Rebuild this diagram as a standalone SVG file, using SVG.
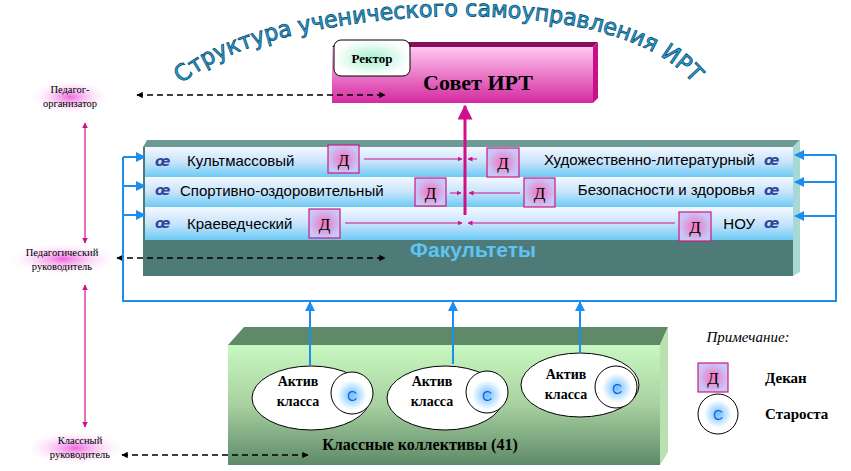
<svg xmlns="http://www.w3.org/2000/svg" width="851" height="471" viewBox="0 0 851 471">
<style>
.t{font-family:"Liberation Serif",serif;fill:#000}
.s{font-family:"Liberation Sans",Arial,sans-serif;font-size:15px;fill:#000}
.o{font-family:"DejaVu Sans",sans-serif;font-size:14px;font-weight:bold;font-style:italic;fill:#334499}
.d{fill:url(#dg);stroke:#d0187f;stroke-width:1.2}
.dt{font-family:"Liberation Serif",serif;font-size:17px;text-anchor:middle}
.lb{fill:url(#pl)}
.lt{font-family:"Liberation Serif",serif;font-size:10.5px;text-anchor:middle}
.bl{stroke:#1a8ff0;stroke-width:2;fill:none}
.pk{stroke:#d0108a;fill:none}
.da{stroke:#000;stroke-width:1.6;stroke-dasharray:6,4;fill:none}
</style>
<defs>
<marker id="ab" viewBox="0 0 10 10" refX="9" refY="5" markerWidth="5" markerHeight="5" orient="auto-start-reverse"><path d="M0 0L10 5L0 10z" fill="#1a8ff0"/></marker>
<marker id="ap" viewBox="0 0 10 10" refX="9" refY="5" markerWidth="5" markerHeight="5" orient="auto-start-reverse"><path d="M0 0L10 5L0 10z" fill="#d0108a"/></marker>
<marker id="ak" viewBox="0 0 10 10" refX="9" refY="5" markerWidth="4" markerHeight="4" orient="auto-start-reverse"><path d="M0 0L10 5L0 10z" fill="#000"/></marker>
<linearGradient id="sv" x1="0" y1="0" x2="0" y2="1"><stop offset="0" stop-color="#ffc8f0"/><stop offset="1" stop-color="#d42aa0"/></linearGradient>
<linearGradient id="row" x1="0" y1="0" x2="0" y2="1"><stop offset="0" stop-color="#f4f8ff"/><stop offset="0.5" stop-color="#c8e4fb"/><stop offset="1" stop-color="#6ccaf5"/></linearGradient>
<linearGradient id="kl" x1="0" y1="0" x2="0" y2="1"><stop offset="0" stop-color="#c8f8c0"/><stop offset="0.5" stop-color="#a8d0a0"/><stop offset="1" stop-color="#5e8a68"/></linearGradient>
<radialGradient id="dg"><stop offset="0" stop-color="#f070c0"/><stop offset="1" stop-color="#c8c8f8"/></radialGradient>
<radialGradient id="cg"><stop offset="0" stop-color="#6fc0ff"/><stop offset="1" stop-color="#ffffff"/></radialGradient>
<radialGradient id="pl"><stop offset="0" stop-color="#f068e0"/><stop offset="1" stop-color="#fff0fc" stop-opacity="0"/></radialGradient>
<radialGradient id="rk"><stop offset="0" stop-color="#a8f0d0"/><stop offset="1" stop-color="#ffffff"/></radialGradient>
<path id="arc" d="M182 84 C260 10 600 -20 690 80"/>
</defs>
<text font-family="DejaVu Sans,sans-serif" font-size="23" fill="#2aa6d6" stroke="#0b4a70" stroke-width="0.8"><textPath href="#arc" textLength="540" lengthAdjust="spacingAndGlyphs">Структура ученического самоуправления ИРТ</textPath></text>

<g id="sovet">
<polygon points="332,47 337,42 598,42 593,47" fill="#8a0c5a"/>
<polygon points="593,47 598,42 598,98 593,103" fill="#c8108a"/>
<rect x="332" y="47" width="261" height="56" fill="url(#sv)"/>
<text class="t" x="478" y="90" font-size="22" font-weight="bold" text-anchor="middle">Совет ИРТ</text>
</g>
<g id="rektor">
<rect x="334" y="40" width="76" height="36" rx="7" fill="url(#rk)" stroke="#000"/>
<text class="t" x="372" y="63" font-size="13" font-weight="bold" text-anchor="middle">Ректор</text>
</g>

<g id="fakultety">
<polygon points="143,147 147,140 800,140 793,147" fill="#6e9a96"/>
<polygon points="793,147 800,140 800,272 793,276" fill="#a8d8d4"/>
<rect x="143" y="147" width="650" height="129" fill="#4e7a78"/>
<rect x="145" y="147" width="648" height="30" fill="url(#row)"/>
<rect x="145" y="177" width="648" height="30" fill="url(#row)"/>
<rect x="145" y="207" width="648" height="33" fill="url(#row)"/>
<text x="473" y="257" font-family="Liberation Sans,sans-serif" font-size="21" font-weight="bold" fill="#5ec4f4" text-anchor="middle">Факультеты</text>
<text class="o" x="155" y="166">œ</text>
<text class="o" x="155" y="195">œ</text>
<text class="o" x="155" y="228">œ</text>
<text class="o" x="764" y="165">œ</text>
<text class="o" x="764" y="195">œ</text>
<text class="o" x="764" y="228">œ</text>
<text class="s" x="187" y="166">Культмассовый</text>
<text class="s" x="180" y="196">Спортивно-оздоровительный</text>
<text class="s" x="187" y="229">Краеведческий</text>
<text class="s" x="755" y="165" text-anchor="end">Художественно-литературный</text>
<text class="s" x="755" y="195" text-anchor="end">Безопасности и здоровья</text>
<text class="s" x="755" y="229" text-anchor="end">НОУ</text>
</g>
<g id="dekany">
<rect class="d" x="328" y="145" width="31" height="28"/><text class="dt" x="343.5" y="166">Д</text>
<rect class="d" x="487" y="148" width="32" height="29"/><text class="dt" x="503" y="169">Д</text>
<rect class="d" x="415" y="178" width="31" height="28"/><text class="dt" x="430.5" y="199">Д</text>
<rect class="d" x="524" y="178" width="31" height="29"/><text class="dt" x="539.5" y="199">Д</text>
<rect class="d" x="309" y="209" width="31" height="29"/><text class="dt" x="324.5" y="230">Д</text>
<rect class="d" x="679" y="212" width="32" height="29"/><text class="dt" x="695" y="233">Д</text>
</g>

<g id="klassy">
<polygon points="228,345 244,327 668,327 660,345" fill="#5e8a68"/>
<polygon points="660,345 668,327 668,452 660,465" fill="#b8e0b0"/>
<rect x="228" y="345" width="432" height="120" fill="url(#kl)"/>
<text class="t" x="420" y="450" font-size="16" font-weight="bold" text-anchor="middle">Классные коллективы (41)</text>
</g>
<g id="aktiv1"><ellipse cx="311" cy="398" rx="59" ry="32" fill="#fff" stroke="#000"/><circle cx="352" cy="393" r="21" fill="#fff" stroke="#000"/><circle cx="352" cy="395" r="15" fill="url(#cg)"/><text x="352" y="401" font-family="Liberation Sans,sans-serif" font-size="14" fill="#1060e0" text-anchor="middle">С</text><text class="t" x="298" y="386" font-size="14" font-weight="bold" text-anchor="middle">Актив</text><text class="t" x="298" y="406" font-size="14" font-weight="bold" text-anchor="middle">класса</text></g>
<g id="aktiv2"><ellipse cx="445" cy="398" rx="58" ry="32" fill="#fff" stroke="#000"/><circle cx="487" cy="392" r="21" fill="#fff" stroke="#000"/><circle cx="487" cy="395" r="15" fill="url(#cg)"/><text x="487" y="401" font-family="Liberation Sans,sans-serif" font-size="14" fill="#1060e0" text-anchor="middle">С</text><text class="t" x="432" y="386" font-size="14" font-weight="bold" text-anchor="middle">Актив</text><text class="t" x="432" y="406" font-size="14" font-weight="bold" text-anchor="middle">класса</text></g>
<g id="aktiv3"><ellipse cx="580" cy="385" rx="59" ry="32" fill="#fff" stroke="#000"/><circle cx="616" cy="387" r="21" fill="#fff" stroke="#000"/><circle cx="617" cy="388" r="15" fill="url(#cg)"/><text x="617" y="394" font-family="Liberation Sans,sans-serif" font-size="14" fill="#1060e0" text-anchor="middle">С</text><text class="t" x="566" y="379" font-size="14" font-weight="bold" text-anchor="middle">Актив</text><text class="t" x="566" y="399" font-size="14" font-weight="bold" text-anchor="middle">класса</text></g>

<g id="ped-org"><rect class="lb" x="30" y="80" width="80" height="34"/><text class="lt" x="70" y="93">Педагог-</text><text class="lt" x="70" y="107">организатор</text></g>
<g id="ped-ruk"><rect class="lb" x="8" y="243" width="110" height="32"/><text class="lt" x="62" y="256">Педагогический</text><text class="lt" x="62" y="270">руководитель</text></g>
<g id="kl-ruk"><rect class="lb" x="25" y="431" width="100" height="34"/><text class="lt" x="80" y="444">Классный</text><text class="lt" x="80" y="458">руководитель</text></g>

<g id="legend">
<text class="t" x="748" y="342" font-size="15" font-style="italic" text-anchor="middle">Примечание:</text>
<rect class="d" x="698" y="363" width="30" height="29"/><text class="dt" x="713" y="384">Д</text>
<text class="t" x="765" y="383" font-size="15" font-weight="bold">Декан</text>
<circle cx="718" cy="414" r="20" fill="#fff" stroke="#000"/><circle cx="718" cy="414" r="14" fill="url(#cg)"/><text x="718" y="420" font-family="Liberation Sans,sans-serif" font-size="14" fill="#1060e0" text-anchor="middle">С</text>
<text class="t" x="765" y="419" font-size="15" font-weight="bold">Староста</text>
</g>

<g id="connectors">
<line class="pk" x1="465" y1="215" x2="465" y2="106" stroke-width="3" marker-end="url(#ap)"/>
<line class="pk" x1="364" y1="159" x2="462" y2="159" marker-end="url(#ap)"/>
<line class="pk" x1="477" y1="159" x2="468" y2="159" marker-end="url(#ap)"/>
<line class="pk" x1="450" y1="193" x2="461" y2="193" marker-end="url(#ap)"/>
<line class="pk" x1="520" y1="193" x2="469" y2="193" marker-end="url(#ap)"/>
<line class="pk" x1="345" y1="223" x2="462" y2="223" marker-end="url(#ap)"/>
<line class="pk" x1="675" y1="223" x2="468" y2="223" marker-end="url(#ap)"/>
<line class="pk" x1="85" y1="123" x2="85" y2="243" stroke-width="1.2" marker-start="url(#ap)" marker-end="url(#ap)"/>
<line class="pk" x1="85" y1="285" x2="85" y2="427" stroke-width="1.2" marker-start="url(#ap)" marker-end="url(#ap)"/>
<line class="da" x1="137" y1="95" x2="385" y2="95" marker-start="url(#ak)" marker-end="url(#ak)"/>
<line class="da" x1="117" y1="258" x2="385" y2="258" marker-start="url(#ak)" marker-end="url(#ak)"/>
<line class="da" x1="122" y1="455" x2="308" y2="455" marker-start="url(#ak)" marker-end="url(#ak)"/>
<path class="bl" d="M123 157V301H836V155"/>
<line class="bl" x1="123" y1="157" x2="145" y2="157" marker-end="url(#ab)"/>
<line class="bl" x1="123" y1="186" x2="145" y2="186" marker-end="url(#ab)"/>
<line class="bl" x1="123" y1="215" x2="145" y2="215" marker-end="url(#ab)"/>
<line class="bl" x1="836" y1="155" x2="795" y2="155" marker-end="url(#ab)"/>
<line class="bl" x1="836" y1="182" x2="795" y2="182" marker-end="url(#ab)"/>
<line class="bl" x1="836" y1="216" x2="795" y2="216" marker-end="url(#ab)"/>
<line class="bl" x1="310" y1="365" x2="310" y2="302" marker-end="url(#ab)"/>
<line class="bl" x1="453" y1="364" x2="453" y2="302" marker-end="url(#ab)"/>
<line class="bl" x1="580" y1="353" x2="580" y2="302" marker-end="url(#ab)"/>
</g>
</svg>
